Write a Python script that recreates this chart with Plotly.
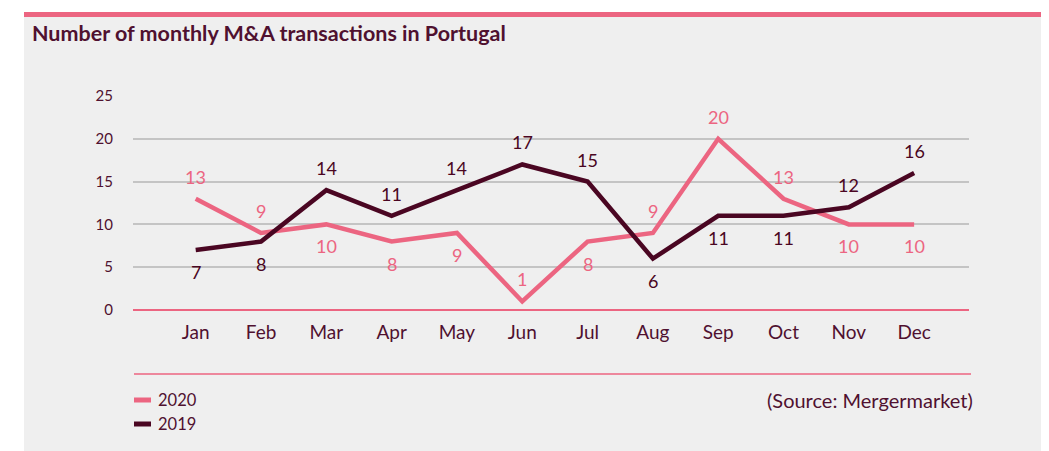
import plotly.graph_objects as go

months = ["Jan", "Feb", "Mar", "Apr", "May", "Jun", "Jul", "Aug", "Sep", "Oct", "Nov", "Dec"]
series_names = ["2020", "2019"]
values_2020 = [13, 9, 10, 8, 9, 1, 8, 9, 20, 13, 10, 10]
values_2019 = [7, 8, 14, 11, 14, 17, 15, 6, 11, 11, 12, 16]
# label placement: 1 = above point, -1 = below point
pos_2020 = [1, 1, -1, -1, -1, 1, -1, 1, 1, 1, -1, -1]
pos_2019 = [-1, -1, 1, 1, 1, 1, 1, -1, -1, -1, 1, 1]
y_ticks = [0, 5, 10, 15, 20, 25]

PINK = "#ec6581"
DARK = "#4a0622"
TEXT = "#4f1130"
BG = "#efefef"
FONT = "Lato"

OFF = 8  # page body margin
W, H = 1049 - OFF, 451 - OFF
L, T = 133 - OFF, 96 - OFF
R = W - (969 - OFF)
B = H - (310 - OFF)
PW, PH = W - L - R, H - T - B


def px(x):
    return (x - OFF - L) / PW


def py(y):
    return 1 - (y - OFF - T) / PH


xs = list(range(len(months)))
fig = go.Figure()
for name, vals, col in [("2020", values_2020, PINK), ("2019", values_2019, DARK)]:
    fig.add_trace(go.Scatter(x=xs, y=vals, mode="lines", name=name,
                             line=dict(color=col, width=4.5), showlegend=False,
                             hoverinfo="skip"))

annotations = []
for vals, poss, col in [(values_2020, pos_2020, PINK), (values_2019, pos_2019, DARK)]:
    for i, (v, p) in enumerate(zip(vals, poss)):
        annotations.append(dict(x=i, y=v, xref="x", yref="y", text=str(v), showarrow=False,
                                yshift=22 * p, font=dict(family=FONT, size=18, color=col)))

# title
annotations.append(dict(x=px(30), y=py(33), xref="paper", yref="paper", xanchor="left", yanchor="middle",
                         text="<b>Number of monthly M&A transactions in Portugal</b>", showarrow=False,
                         font=dict(family=FONT, size=21.5, color=TEXT)))
# source
annotations.append(dict(x=px(975), y=py(400), xref="paper", yref="paper", xanchor="right", yanchor="middle",
                        text="(Source: Mergermarket)", showarrow=False,
                        font=dict(family=FONT, size=20, color=TEXT)))

shapes = [
    dict(type="rect", xref="paper", yref="paper", x0=px(24), x1=px(1045), y0=py(460), y1=py(17),
         fillcolor=BG, line=dict(width=0), layer="below"),
    dict(type="rect", xref="paper", yref="paper", x0=px(24), x1=px(1045), y0=py(17), y1=py(12),
         fillcolor=PINK, line=dict(width=0), layer="below"),
    dict(type="line", xref="paper", yref="paper", x0=px(134), x1=px(971), y0=py(374), y1=py(374),
         line=dict(color=PINK, width=1.5)),
]
# custom legend
for k, (name, col) in enumerate(zip(series_names, [PINK, DARK])):
    yc = 400 + 24 * k
    shapes.append(dict(type="line", xref="paper", yref="paper", x0=px(134), x1=px(151),
                       y0=py(yc), y1=py(yc), line=dict(color=col, width=5)))
    annotations.append(dict(x=px(156), y=py(yc), xref="paper", yref="paper", xanchor="left",
                            yanchor="middle", text=name, showarrow=False,
                            font=dict(family=FONT, size=16.5, color=TEXT)))

fig.update_layout(
    width=W, height=H,
    margin=dict(l=L, r=R, t=T, b=B),
    paper_bgcolor="white", plot_bgcolor=BG,
    shapes=shapes, annotations=annotations,
    xaxis=dict(range=[-0.96, 11.84], tickmode="array", tickvals=xs, ticktext=months,
               showgrid=False, zeroline=False, showline=False, ticks="",
               ticklabelstandoff=9,
               tickfont=dict(family=FONT, size=19, color=TEXT), fixedrange=True),
    yaxis=dict(range=[0, 25], tickvals=y_ticks, showgrid=True, gridcolor="#c4c4c4", gridwidth=1.5,
               zeroline=True, zerolinecolor=PINK, zerolinewidth=1.5, showline=False, ticks="",
               ticklabelstandoff=19,
               tickfont=dict(family=FONT, size=15, color=TEXT), fixedrange=True),
    showlegend=False,
)

fig.write_html("out.html")
